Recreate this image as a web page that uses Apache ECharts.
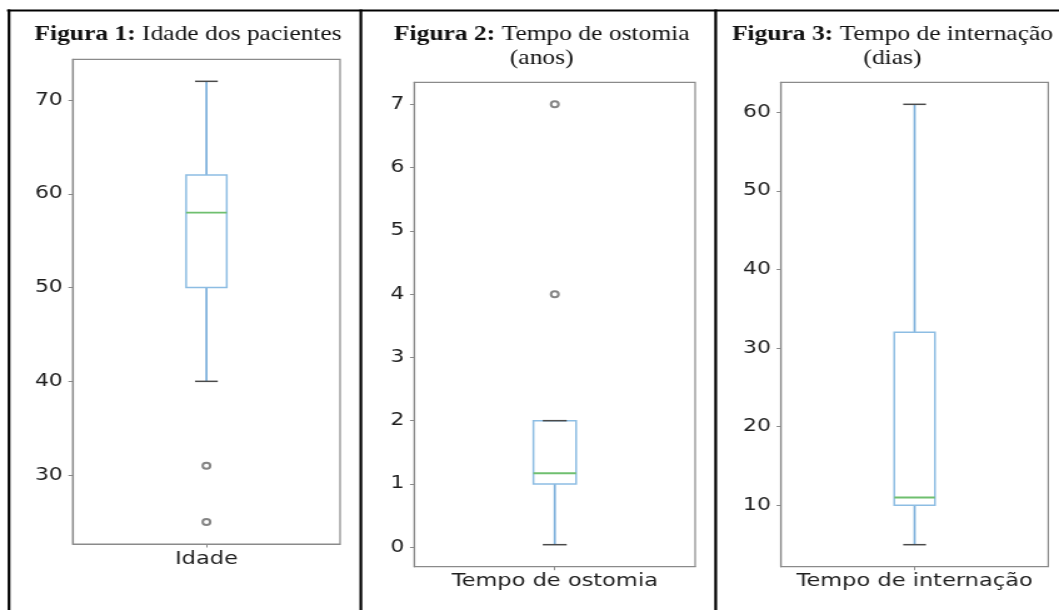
<!DOCTYPE html>
<html>
<head>
<meta charset="utf-8">
<script src="https://cdn.jsdelivr.net/npm/echarts@6/dist/echarts.min.js"></script>
<style>
html,body{margin:0;padding:0;background:#fff;}
#wrap{width:1059px;height:610px;overflow:hidden;position:relative;background:#fff;}
#chart{width:847px;height:610px;transform:scaleX(1.2503);transform-origin:0 0;}
</style>
</head>
<body>
<div id="wrap"><div id="chart"></div></div>
<script>
// ---- data ----
const categories1 = ['Idade'];
const categories2 = ['Tempo de ostomia'];
const categories3 = ['Tempo de internação'];
// [lower whisker, Q1, median, Q3, upper whisker]
const box1 = [40, 50, 58, 62, 72];
const box2 = [0.04, 1, 1.17, 2, 2];
const box3 = [5, 10, 11, 32, 61];
const outliers1 = [31, 25];
const outliers2 = [4, 7];
const outliers3 = [];
const yTicks1 = [30, 40, 50, 60, 70];
const yTicks2 = [0, 1, 2, 3, 4, 5, 6, 7];
const yTicks3 = [10, 20, 30, 40, 50, 60];
const titleBold = ['Figura 1:', 'Figura 2:', 'Figura 3:'];
const titleRest = [' Idade dos pacientes', ' Tempo de ostomia', ' Tempo de internação'];
const titleLine2 = ['', '(anos)', '(dias)'];

// ---- styles ----
const boxColor = '#8dbde3';
const whiskerColor = '#7aaedb';
const medianColor = '#6fbf6f';
const capColor = '#4a4a4a';
const frameColor = '#8a8a8a';
const textColor = '#1e1e1e';

const grids = [
  {left: 58.2, top: 59.3, width: 213.8, height: 484.7},
  {left: 331.4, top: 82.3, width: 224.6, height: 484.4},
  {left: 624.6, top: 82.3, width: 213.8, height: 484.4}
];

function extent(box, outs) {
  const all = box.concat(outs);
  const mn = Math.min.apply(null, all), mx = Math.max.apply(null, all);
  const pad = (mx - mn) * 0.05;
  return [mn - pad, mx + pad];
}

function renderBox(params, api) {
  const cat = api.value(0);
  const lo = api.coord([cat, api.value(1)]);
  const q1 = api.coord([cat, api.value(2)]);
  const md = api.coord([cat, api.value(3)]);
  const q3 = api.coord([cat, api.value(4)]);
  const hi = api.coord([cat, api.value(5)]);
  const band = api.size([1, 0])[0];
  const bw = band * 0.152, cw = bw * 0.56;
  const x = lo[0];
  return {type: 'group', children: [
    {type: 'line', shape: {x1: x, y1: q1[1], x2: x, y2: lo[1]}, style: {stroke: whiskerColor, lineWidth: 1.7}},
    {type: 'line', shape: {x1: x, y1: q3[1], x2: x, y2: hi[1]}, style: {stroke: whiskerColor, lineWidth: 1.7}},
    {type: 'rect', shape: {x: x - bw / 2, y: q3[1], width: bw, height: q1[1] - q3[1]}, style: {fill: 'none', stroke: boxColor, lineWidth: 1.5}},
    {type: 'line', shape: {x1: x - bw / 2, y1: md[1], x2: x + bw / 2, y2: md[1]}, style: {stroke: medianColor, lineWidth: 1.9}},
    {type: 'line', shape: {x1: x - cw / 2, y1: lo[1], x2: x + cw / 2, y2: lo[1]}, style: {stroke: capColor, lineWidth: 1.5}},
    {type: 'line', shape: {x1: x - cw / 2, y1: hi[1], x2: x + cw / 2, y2: hi[1]}, style: {stroke: capColor, lineWidth: 1.5}}
  ]};
}

const cats = [categories1, categories2, categories3];
const boxes = [box1, box2, box3];
const outs = [outliers1, outliers2, outliers3];
const ticks = [yTicks1, yTicks2, yTicks3];

const xAxes = [], yAxes = [], series = [];
for (let i = 0; i < 3; i++) {
  const ext = extent(boxes[i], outs[i]);
  xAxes.push({
    type: 'category', gridIndex: i, data: cats[i], boundaryGap: true,
    axisLine: {show: true, onZero: false, lineStyle: {color: frameColor, width: 1.2}},
    axisTick: {show: true, alignWithLabel: true, length: 3.5, lineStyle: {color: frameColor}},
    axisLabel: {fontFamily: 'DejaVu Sans', fontSize: 18, color: textColor, margin: 6},
    splitLine: {show: false}
  });
  yAxes.push({
    type: 'value', gridIndex: i, min: ext[0], max: ext[1],
    axisLine: {show: true, onZero: false, lineStyle: {color: frameColor, width: 1.2}},
    axisTick: {show: true, length: 3.5, customValues: ticks[i], lineStyle: {color: frameColor}},
    axisLabel: {customValues: ticks[i], fontFamily: 'DejaVu Sans', fontSize: 17.5, color: textColor, margin: 8},
    splitLine: {show: false}
  });
  series.push({
    type: 'custom', xAxisIndex: i, yAxisIndex: i, renderItem: renderBox,
    encode: {x: 0, y: [1, 2, 3, 4, 5]},
    data: [[0].concat(boxes[i])], silent: true, z: 3
  });
  series.push({
    type: 'scatter', xAxisIndex: i, yAxisIndex: i,
    symbol: 'emptyCircle', symbolSize: 6,
    itemStyle: {color: '#666', borderColor: '#666', borderWidth: 0.9},
    data: outs[i].map(v => [0, v]), silent: true, z: 4
  });
}

const titleX = [150.4, 433.3, 713.8];
const graphics = [];
for (let i = 0; i < 3; i++) {
  graphics.push({
    type: 'text', x: titleX[i], y: 35,
    style: {
      text: '{b|' + titleBold[i] + '}' + titleRest[i],
      rich: {b: {fontWeight: 'bold', fontFamily: 'Liberation Serif', fontSize: 20.4, fill: '#111'}},
      fontFamily: 'Liberation Serif', fontSize: 20.4, fill: '#111',
      align: 'center', textAlign: 'center', verticalAlign: 'middle', textVerticalAlign: 'middle'
    }
  });
  if (titleLine2[i]) {
    graphics.push({
      type: 'text', x: titleX[i], y: 58.5,
      style: {
        text: titleLine2[i], fontFamily: 'Liberation Serif', fontSize: 20.4, fill: '#111',
        align: 'center', textAlign: 'center', verticalAlign: 'middle', textVerticalAlign: 'middle'
      }
    });
  }
}
// panel frame lines
const frameLines = [
  [5.6, 10.5, 847, 10.5],
  [7.2, 9.5, 7.2, 610],
  [288.6, 9.5, 288.6, 610],
  [572.4, 9.5, 572.4, 610]
];
frameLines.forEach(l => graphics.push({
  type: 'line', shape: {x1: l[0], y1: l[1], x2: l[2], y2: l[3]},
  style: {stroke: '#000', lineWidth: 2.2}, silent: true
}));

const chart = echarts.init(document.getElementById('chart'));
chart.setOption({
  backgroundColor: '#fff',
  animation: false,
  grid: grids.map(g => Object.assign({show: true, borderColor: frameColor, borderWidth: 1.2, backgroundColor: 'transparent', containLabel: false}, g)),
  xAxis: xAxes,
  yAxis: yAxes,
  series: series,
  graphic: graphics
});
</script>
</body>
</html>
